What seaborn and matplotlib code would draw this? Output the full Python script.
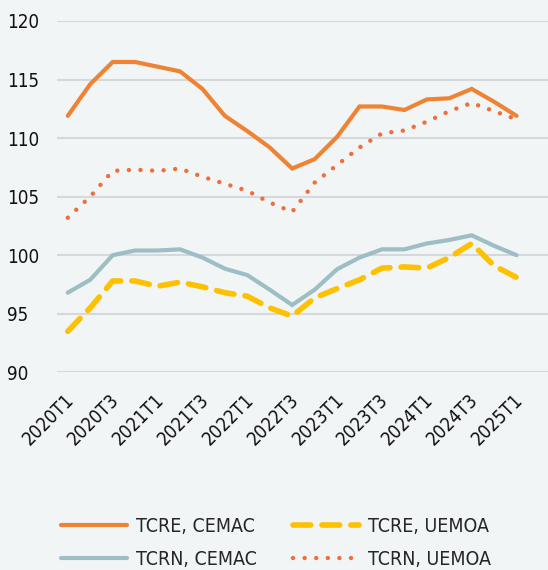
import numpy as np
import pandas as pd
import matplotlib
matplotlib.use("Agg")
import matplotlib.pyplot as plt
from matplotlib.transforms import ScaledTranslation
import seaborn as sns

# quarters 2020T1 .. 2025T1
quarters = [f"{y}T{q}" for y in range(2020, 2026) for q in range(1, 5)][:21]

tcre_cemac = [111.9, 114.6, 116.5, 116.5, 116.1, 115.7, 114.2, 111.9, 110.6, 109.2, 107.4,
              108.2, 110.1, 112.7, 112.7, 112.4, 113.3, 113.4, 114.2, 113.1, 111.9]
tcrn_cemac = [96.8, 97.9, 100.0, 100.4, 100.4, 100.5, 99.8, 98.85, 98.3, 97.05, 95.75,
              97.05, 98.8, 99.8, 100.5, 100.5, 101.0, 101.3, 101.7, 100.8, 100.0]
tcre_uemoa = [93.5, 95.5, 97.8, 97.8, 97.35, 97.7, 97.3, 96.8, 96.5, 95.5, 94.8,
              96.35, 97.15, 97.9, 98.9, 99.0, 98.9, 99.8, 101.0, 99.1, 98.1]
tcrn_uemoa = [103.2, 105.0, 107.2, 107.3, 107.2, 107.4, 106.7, 106.1, 105.5, 104.5, 103.7,
              106.2, 107.7, 109.2, 110.4, 110.65, 111.4, 112.3, 113.0, 112.3, 111.6]

series_names = ["TCRE, CEMAC", "TCRN, CEMAC", "TCRE, UEMOA", "TCRN, UEMOA"]
series_vals = [tcre_cemac, tcrn_cemac, tcre_uemoa, tcrn_uemoa]

bg = "#F1F5F6"
styles = {
    "TCRE, CEMAC": dict(color="#F08234", lw=3.0, ls="-"),
    "TCRN, CEMAC": dict(color="#9DBEC4", lw=3.0, ls="-"),
    "TCRE, UEMOA": dict(color="#FFC000", lw=4.0, ls=(0, (3.2, 2.0))),
    "TCRN, UEMOA": dict(color="#EF6F3C", lw=3.2, ls=(0, (0.01, 2.6))),
}

df = pd.DataFrame({"t": np.arange(len(quarters))})
for n, v in zip(series_names, series_vals):
    df[n] = v

sns.set_style("white")
plt.rcParams["font.family"] = ["DejaVu Sans"]
plt.rcParams["font.stretch"] = "condensed"

fig = plt.figure(figsize=(5.48, 5.70), dpi=100, facecolor=bg)
ax = fig.add_axes([57 / 548, 1 - 372.3 / 570, 1 - 57 / 548, (372.3 - 21) / 570])
ax.set_facecolor(bg)

handles = []
for n in series_names:
    st = styles[n]
    sns.lineplot(data=df, x="t", y=n, ax=ax, color=st["color"], linewidth=st["lw"],
                 label=n, legend=False)
    line = ax.get_lines()[-1]
    line.set_linestyle(st["ls"])
    line.set_dash_capstyle("round")
    line.set_solid_capstyle("round")
    line.set_solid_joinstyle("miter")
    handles.append(line)

ax.set_xlim(-0.48, 21.4)
ax.set_ylim(90, 120)
ax.set_yticks([90, 95, 100, 105, 110, 115, 120])
ax.set_xticks(df["t"][::2])
ax.set_xticklabels(quarters[::2], rotation=45, ha="right", va="center",
                   rotation_mode="anchor")
ax.tick_params(axis="x", length=0, pad=17.5, labelsize=13.5, colors="#111111")
ax.tick_params(axis="y", length=0, pad=36, labelsize=13.5, colors="#111111")
shift = ScaledTranslation(3.5 / 100, 0, fig.dpi_scale_trans)
for lab in ax.get_xticklabels():
    lab.set_transform(lab.get_transform() + shift)
for lab in ax.get_yticklabels():
    lab.set_horizontalalignment("left")
ax.grid(axis="y", color="#D6D9DB", linewidth=1.5)
ax.set_axisbelow(True)
for s in ax.spines.values():
    s.set_visible(False)
ax.set_xlabel("")
ax.set_ylabel("")

leg = fig.legend(handles=handles, labels=series_names, ncol=2, loc="lower left",
                 bbox_to_anchor=(0.08, -0.029), frameon=False, fontsize=14,
                 handlelength=3.4, columnspacing=1.85, labelspacing=0.72, handletextpad=0.45)

fig.savefig("out.png", dpi=100, facecolor=bg)
